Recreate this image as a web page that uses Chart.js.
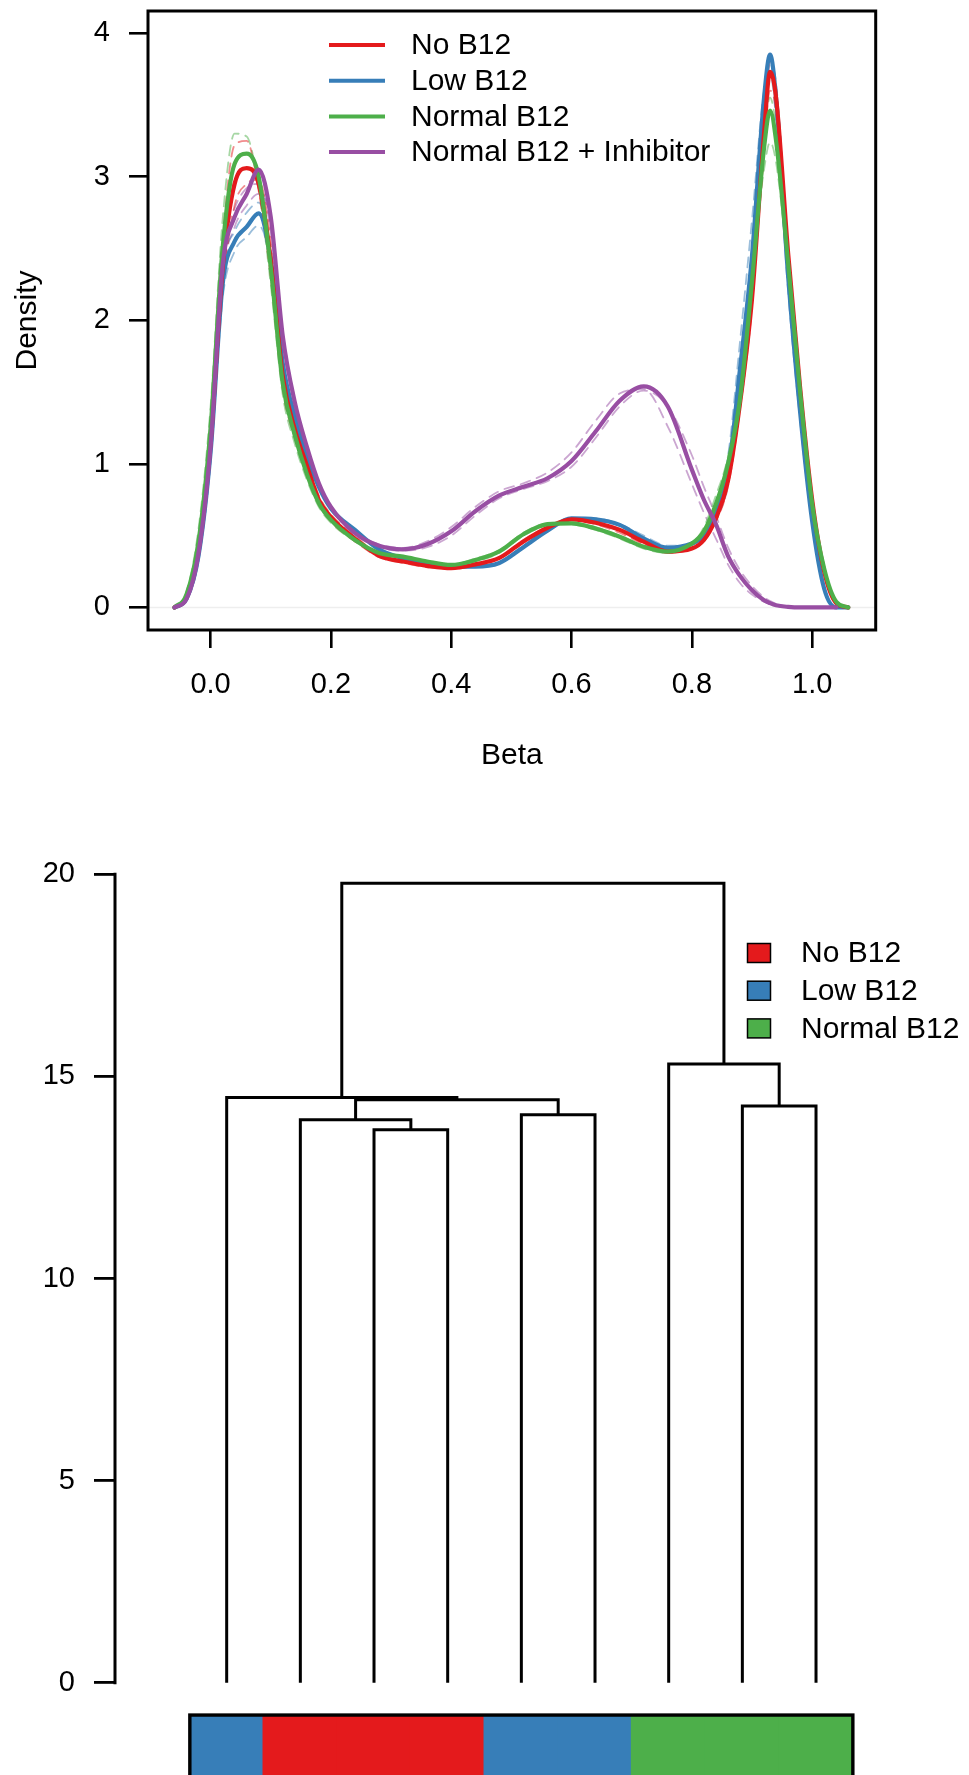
<!DOCTYPE html>
<html>
<head>
<meta charset="utf-8">
<script src="https://cdn.jsdelivr.net/npm/chart.js@4.4.0/dist/chart.umd.min.js"></script>
<style>
html,body{margin:0;padding:0;background:#fff;}
#wrap{position:relative;width:969px;height:1775px;overflow:hidden;}
canvas{position:absolute;left:0;}
#grafDensidad{top:0;}
#grafArbol{top:800px;}
</style>
</head>
<body>
<div id="wrap">
<canvas id="grafDensidad" width="969" height="800"></canvas>
<canvas id="grafArbol" width="969" height="975"></canvas>
</div>
<script>

/* =====================================
   DATOS - DENSIDADES BETA
===================================== */

const betaGrid = [-0.06,-0.04,-0.02,0.00,0.02,0.04,0.06,0.08,0.10,0.12,0.14,0.16,0.18,0.20,
0.24,0.28,0.32,0.36,0.40,0.44,0.48,0.52,0.56,0.60,0.64,0.68,0.72,0.76,0.80,
0.82,0.84,0.86,0.88,0.90,0.92,0.93,0.94,0.96,0.98,1.00,1.02,1.04,1.06];

const betaTicks = [0,0.2,0.4,0.6,0.8,1.0];
const densityTicks = [0,1,2,3,4];

const groupLabels = ["No B12","Low B12","Normal B12","Normal B12 + Inhibitor"];

// mean curves (solid)
const densNoB12 = [0,0.07,0.40,1.15,2.36,2.95,3.06,2.95,2.42,1.61,1.24,0.99,0.75,0.63,
0.48,0.36,0.32,0.29,0.273,0.30,0.345,0.46,0.555,0.614,0.59,0.54,0.458,0.389,0.41,
0.47,0.62,0.88,1.42,2.15,3.30,3.73,3.55,2.47,1.53,0.75,0.25,0.03,0];

const densLowB12 = [0,0.06,0.36,1.08,2.25,2.55,2.65,2.745,2.42,1.70,1.33,1.06,0.84,0.69,
0.54,0.405,0.343,0.31,0.285,0.285,0.31,0.42,0.535,0.62,0.614,0.575,0.48,0.415,0.445,
0.50,0.66,0.93,1.66,2.45,3.55,3.85,3.55,2.31,1.36,0.60,0.13,0,0];

const densNormalB12 = [0,0.09,0.46,1.25,2.50,3.09,3.16,3.00,2.37,1.56,1.20,0.93,0.726,0.61,
0.47,0.38,0.354,0.32,0.296,0.33,0.39,0.51,0.58,0.586,0.55,0.493,0.423,0.389,0.445,
0.53,0.72,1.00,1.45,2.27,3.20,3.46,3.25,2.40,1.50,0.72,0.27,0.04,0];

const densInhibitor = [0,0.06,0.38,1.12,2.38,2.72,2.88,3.05,2.72,1.89,1.43,1.12,0.865,0.70,
0.517,0.43,0.405,0.44,0.53,0.67,0.78,0.84,0.90,1.02,1.225,1.44,1.54,1.40,0.96,
0.75,0.58,0.36,0.22,0.12,0.05,0.03,0.015,0.004,0,0,0,0,null];

// replicates (dashed)
const repNoB12A = [0,0.09,0.48,1.28,2.55,3.22,3.25,2.90,2.30,1.52,1.18,0.94,0.72,0.60,
0.46,0.35,0.31,0.28,0.27,0.29,0.35,0.47,0.56,0.61,0.58,0.52,0.44,0.38,0.41,
0.47,0.62,0.88,1.44,2.20,3.22,3.60,3.46,2.45,1.52,0.76,0.26,0.03,0];
const repNoB12B = [0,0.06,0.36,1.07,2.22,2.80,2.95,2.98,2.55,1.68,1.30,1.03,0.78,0.65,
0.50,0.37,0.33,0.30,0.28,0.30,0.34,0.45,0.55,0.61,0.60,0.55,0.47,0.40,0.41,
0.46,0.60,0.84,1.38,2.10,3.35,3.80,3.62,2.50,1.55,0.74,0.24,0.03,0];

const repLowB12A = [0,0.07,0.40,1.15,2.35,2.62,2.75,2.82,2.48,1.74,1.35,1.07,0.85,0.70,
0.53,0.40,0.34,0.31,0.285,0.285,0.31,0.42,0.53,0.61,0.61,0.57,0.49,0.42,0.44,
0.52,0.72,1.05,1.85,2.70,3.60,3.72,3.40,2.20,1.30,0.58,0.13,0,0];
const repLowB12B = [0,0.05,0.33,1.02,2.15,2.48,2.58,2.66,2.40,1.70,1.33,1.06,0.85,0.70,
0.54,0.41,0.345,0.31,0.285,0.285,0.31,0.43,0.54,0.62,0.62,0.58,0.50,0.43,0.44,
0.48,0.62,0.85,1.50,2.30,3.40,3.78,3.65,2.45,1.45,0.66,0.15,0,0];

const repNormalA = [0,0.11,0.55,1.40,2.70,3.30,3.28,2.92,2.25,1.48,1.14,0.89,0.70,0.59,
0.46,0.37,0.35,0.32,0.30,0.34,0.40,0.52,0.585,0.58,0.54,0.48,0.41,0.38,0.44,
0.56,0.78,1.05,1.55,2.35,3.05,3.24,3.10,2.35,1.48,0.72,0.27,0.04,0];
const repNormalB = [0,0.08,0.42,1.18,2.40,2.98,3.05,2.96,2.42,1.60,1.23,0.95,0.74,0.62,
0.48,0.38,0.355,0.32,0.295,0.32,0.38,0.50,0.575,0.59,0.56,0.50,0.43,0.39,0.43,
0.52,0.70,0.95,1.42,2.25,3.28,3.55,3.35,2.45,1.52,0.73,0.27,0.04,0];

const repInhibitorA = [0,0.07,0.42,1.18,2.45,2.78,2.92,2.95,2.62,1.84,1.40,1.10,0.86,0.70,
0.52,0.44,0.415,0.46,0.56,0.70,0.81,0.865,0.94,1.08,1.30,1.49,1.52,1.26,0.86,
0.66,0.48,0.30,0.17,0.09,0.04,0.025,0.012,0.003,0,0,0,0,null];
const repInhibitorB = [0,0.06,0.36,1.08,2.30,2.65,2.80,2.88,2.70,1.92,1.45,1.13,0.87,0.70,
0.51,0.42,0.395,0.42,0.50,0.64,0.76,0.825,0.88,0.98,1.18,1.40,1.51,1.40,1.06,
0.84,0.64,0.42,0.26,0.15,0.07,0.045,0.025,0.006,0,0,0,0,null];

/* =====================================
   DATOS - DENDROGRAMA
===================================== */

const leafGroups = ["Low B12","No B12","No B12","No B12","Low B12","Low B12",
"Normal B12","Normal B12","Normal B12"];

// negative = leaf position, positive = earlier merge (1-based)
const mergeLeft   = [-3,-2,-5,-8, 2,-1,-7, 6];
const mergeRight  = [-4, 1,-6,-9, 3, 5, 4, 7];
const mergeHeight = [13.68,13.93,14.05,14.27,14.42,14.48,15.31,19.78];

const heightTicks = [0,5,10,15,20];

/* =====================================
   ESTILOS
===================================== */

const FONT = "'Liberation Sans', Arial, Helvetica, sans-serif";

const groupColors = {
    "No B12":"#E41A1C",
    "Low B12":"#377EB8",
    "Normal B12":"#4DAF4A",
    "Normal B12 + Inhibitor":"#984EA3"
};

const fadedColors = {
    "No B12":"rgba(228,26,28,0.5)",
    "Low B12":"rgba(55,126,184,0.5)",
    "Normal B12":"rgba(77,175,74,0.5)",
    "Normal B12 + Inhibitor":"rgba(152,78,163,0.5)"
};

// chart.js pads vertical scales by half a label + padding; R does not
function sinRelleno(s){
    s.paddingTop = 0;
    s.paddingBottom = 0;
}

/* =====================================
   GRAFICA DE DENSIDAD
===================================== */

function puntos(valores){
    return betaGrid.map((x,i)=>({x:x,y:valores[i]}));
}

function graficaDensidad(){

    const medias = [densNoB12,densLowB12,densNormalB12,densInhibitor];
    const replicas = [
        [repNoB12A,repNoB12B],
        [repLowB12A,repLowB12B],
        [repNormalA,repNormalB],
        [repInhibitorA,repInhibitorB]
    ];
    const capa = [3,4,2,1];

    const datasets = [];

    groupLabels.forEach((g,i)=>{
        replicas[i].forEach(r=>{
            datasets.push({
                label:"",
                data:puntos(r),
                borderColor:fadedColors[g],
                borderWidth:1.8,
                borderDash:[10,7],
                order:10+i
            });
        });
        datasets.push({
            label:g,
            data:puntos(medias[i]),
            borderColor:groupColors[g],
            borderWidth:4.2,
            order:capa[i]
        });
    });

    const marco = {
        id:"marco",
        beforeDatasetsDraw(chart){
            const {ctx,chartArea} = chart;
            const y0 = chart.scales.y.getPixelForValue(0);
            ctx.save();
            ctx.strokeStyle = "#eeeeee";
            ctx.lineWidth = 1.5;
            ctx.beginPath();
            ctx.moveTo(chartArea.left,y0);
            ctx.lineTo(chartArea.right,y0);
            ctx.stroke();
            ctx.restore();
        },
        afterDatasetsDraw(chart){
            const {ctx,chartArea} = chart;
            ctx.save();
            ctx.strokeStyle = "#000";
            ctx.lineWidth = 3;
            ctx.strokeRect(chartArea.left,chartArea.top,
                chartArea.right-chartArea.left,chartArea.bottom-chartArea.top);

            // legend, no box
            ctx.font = "30px " + FONT;
            ctx.textBaseline = "middle";
            ctx.textAlign = "left";
            groupLabels.forEach((g,i)=>{
                const y = 45 + i*35.7;
                ctx.strokeStyle = groupColors[g];
                ctx.lineWidth = 4;
                ctx.beginPath();
                ctx.moveTo(329,y);
                ctx.lineTo(385,y);
                ctx.stroke();
                ctx.fillStyle = "#000";
                ctx.fillText(g,411,y+1);
            });
            ctx.restore();
        }
    };

    new Chart(document.getElementById("grafDensidad"),{
        type:"line",
        data:{datasets:datasets},
        options:{
            responsive:false,
            animation:false,
            devicePixelRatio:1,
            layout:{padding:{left:0,top:11,right:93.3,bottom:0}},
            elements:{
                point:{radius:0},
                line:{cubicInterpolationMode:"monotone",fill:false,borderCapStyle:"round"}
            },
            plugins:{legend:{display:false},tooltip:{enabled:false}},
            scales:{
                x:{
                    type:"linear",
                    min:-0.104,
                    max:1.1056,
                    afterFit:(s)=>{ s.height = 170; s.paddingLeft = 0; s.paddingRight = 0; },
                    afterBuildTicks:(s)=>{ s.ticks = betaTicks.map(v=>({value:v})); },
                    ticks:{
                        color:"#000",
                        font:{size:29,family:FONT},
                        padding:19.6,
                        maxRotation:0,
                        autoSkip:false,
                        callback:(v)=>Number(v).toFixed(1)
                    },
                    grid:{drawOnChartArea:false,drawTicks:true,tickLength:18,color:"#000",lineWidth:2.6},
                    border:{display:false},
                    title:{display:true,text:"Beta",color:"#000",
                        font:{size:30,family:FONT},padding:{top:0,bottom:26}}
                },
                y:{
                    type:"linear",
                    min:-0.157,
                    max:4.154,
                    afterFit:(s)=>{ s.width = 148; sinRelleno(s); },
                    afterBuildTicks:(s)=>{ s.ticks = densityTicks.map(v=>({value:v})); },
                    ticks:{color:"#000",font:{size:29,family:FONT},padding:19},
                    grid:{drawOnChartArea:false,drawTicks:true,tickLength:19,color:"#000",lineWidth:2.6},
                    border:{display:false},
                    title:{display:true,text:"Density",color:"#000",
                        font:{size:30,family:FONT},padding:{top:9.5,bottom:0}}
                }
            }
        },
        plugins:[marco]
    });
}

/* =====================================
   DENDROGRAMA
===================================== */

function graficaArbol(){

    // position and height of every node, from the merges
    const posNodo = [];
    const altNodo = [];
    function posicion(ref){
        return ref < 0 ? -ref : posNodo[ref-1];
    }
    function altura(ref){
        return ref < 0 ? 0 : altNodo[ref-1];
    }

    const datasets = [];

    mergeHeight.forEach((h,i)=>{
        const xl = posicion(mergeLeft[i]);
        const xr = posicion(mergeRight[i]);
        datasets.push({
            type:"line",
            data:[
                {x:xl,y:altura(mergeLeft[i])},
                {x:xl,y:h},
                {x:xr,y:h},
                {x:xr,y:altura(mergeRight[i])}
            ],
            borderColor:"#000",
            borderWidth:3,
            tension:0,
            borderJoinStyle:"miter",
            borderCapStyle:"butt",
            pointRadius:0,
            order:1
        });
        posNodo.push((xl+xr)/2);
        altNodo.push(h);
    });

    datasets.push({
        type:"bar",
        data:leafGroups.map((g,i)=>({x:i+1,y:[-0.8,-3]})),
        backgroundColor:leafGroups.map(g=>groupColors[g]),
        borderWidth:0,
        inflateAmount:1,
        barPercentage:1,
        categoryPercentage:1,
        order:5
    });

    const legendGroups = ["No B12","Low B12","Normal B12"];

    const extras = {
        id:"extras",
        afterDatasetsDraw(chart){
            const {ctx,chartArea} = chart;
            const ys = chart.scales.y;
            ctx.save();

            // axis line from 0 to 20
            ctx.strokeStyle = "#000";
            ctx.lineWidth = 3;
            ctx.lineCap = "square";
            ctx.beginPath();
            ctx.moveTo(chartArea.left,ys.getPixelForValue(heightTicks[0]));
            ctx.lineTo(chartArea.left,ys.getPixelForValue(heightTicks[heightTicks.length-1]));
            ctx.stroke();

            // outline of colour strip
            const meta = chart.getDatasetMeta(chart.data.datasets.length-1);
            const first = meta.data[0];
            const last = meta.data[meta.data.length-1];
            const top = Math.min(first.y,first.base);
            const left = first.x - first.width/2;
            const right = last.x + last.width/2;
            ctx.lineCap = "butt";
            ctx.lineWidth = 3.4;
            ctx.strokeRect(left,top,right-left,400);

            // legend
            ctx.font = "30px " + FONT;
            ctx.textBaseline = "middle";
            ctx.textAlign = "left";
            legendGroups.forEach((g,i)=>{
                const y = 153 + i*37.7;
                ctx.fillStyle = groupColors[g];
                ctx.fillRect(747.5,y-9.5,23,19);
                ctx.lineWidth = 1.5;
                ctx.strokeStyle = "#000";
                ctx.strokeRect(747.5,y-9.5,23,19);
                ctx.fillStyle = "#000";
                ctx.fillText(g,801,y+1);
            });
            ctx.restore();
        }
    };

    new Chart(document.getElementById("grafArbol"),{
        data:{datasets:datasets},
        options:{
            responsive:false,
            animation:false,
            devicePixelRatio:1,
            layout:{padding:{left:0,top:51,right:69,bottom:0}},
            plugins:{legend:{display:false},tooltip:{enabled:false}},
            scales:{
                x:{
                    type:"linear",
                    display:false,
                    offset:false,
                    min:-0.516,
                    max:10.14,
                    grid:{offset:false},
                    afterBuildTicks:(s)=>{ s.ticks = leafGroups.map((g,i)=>({value:i+1})); }
                },
                y:{
                    type:"linear",
                    min:-2.283,
                    max:20.577,
                    afterFit:(s)=>{ s.width = 115; sinRelleno(s); },
                    afterBuildTicks:(s)=>{ s.ticks = heightTicks.map(v=>({value:v})); },
                    ticks:{color:"#000",font:{size:29,family:FONT},padding:19},
                    grid:{drawOnChartArea:false,drawTicks:true,tickLength:21,color:"#000",lineWidth:2.8},
                    border:{display:false}
                }
            }
        },
        plugins:[extras]
    });
}

graficaDensidad();
graficaArbol();

</script>
</body>
</html>
